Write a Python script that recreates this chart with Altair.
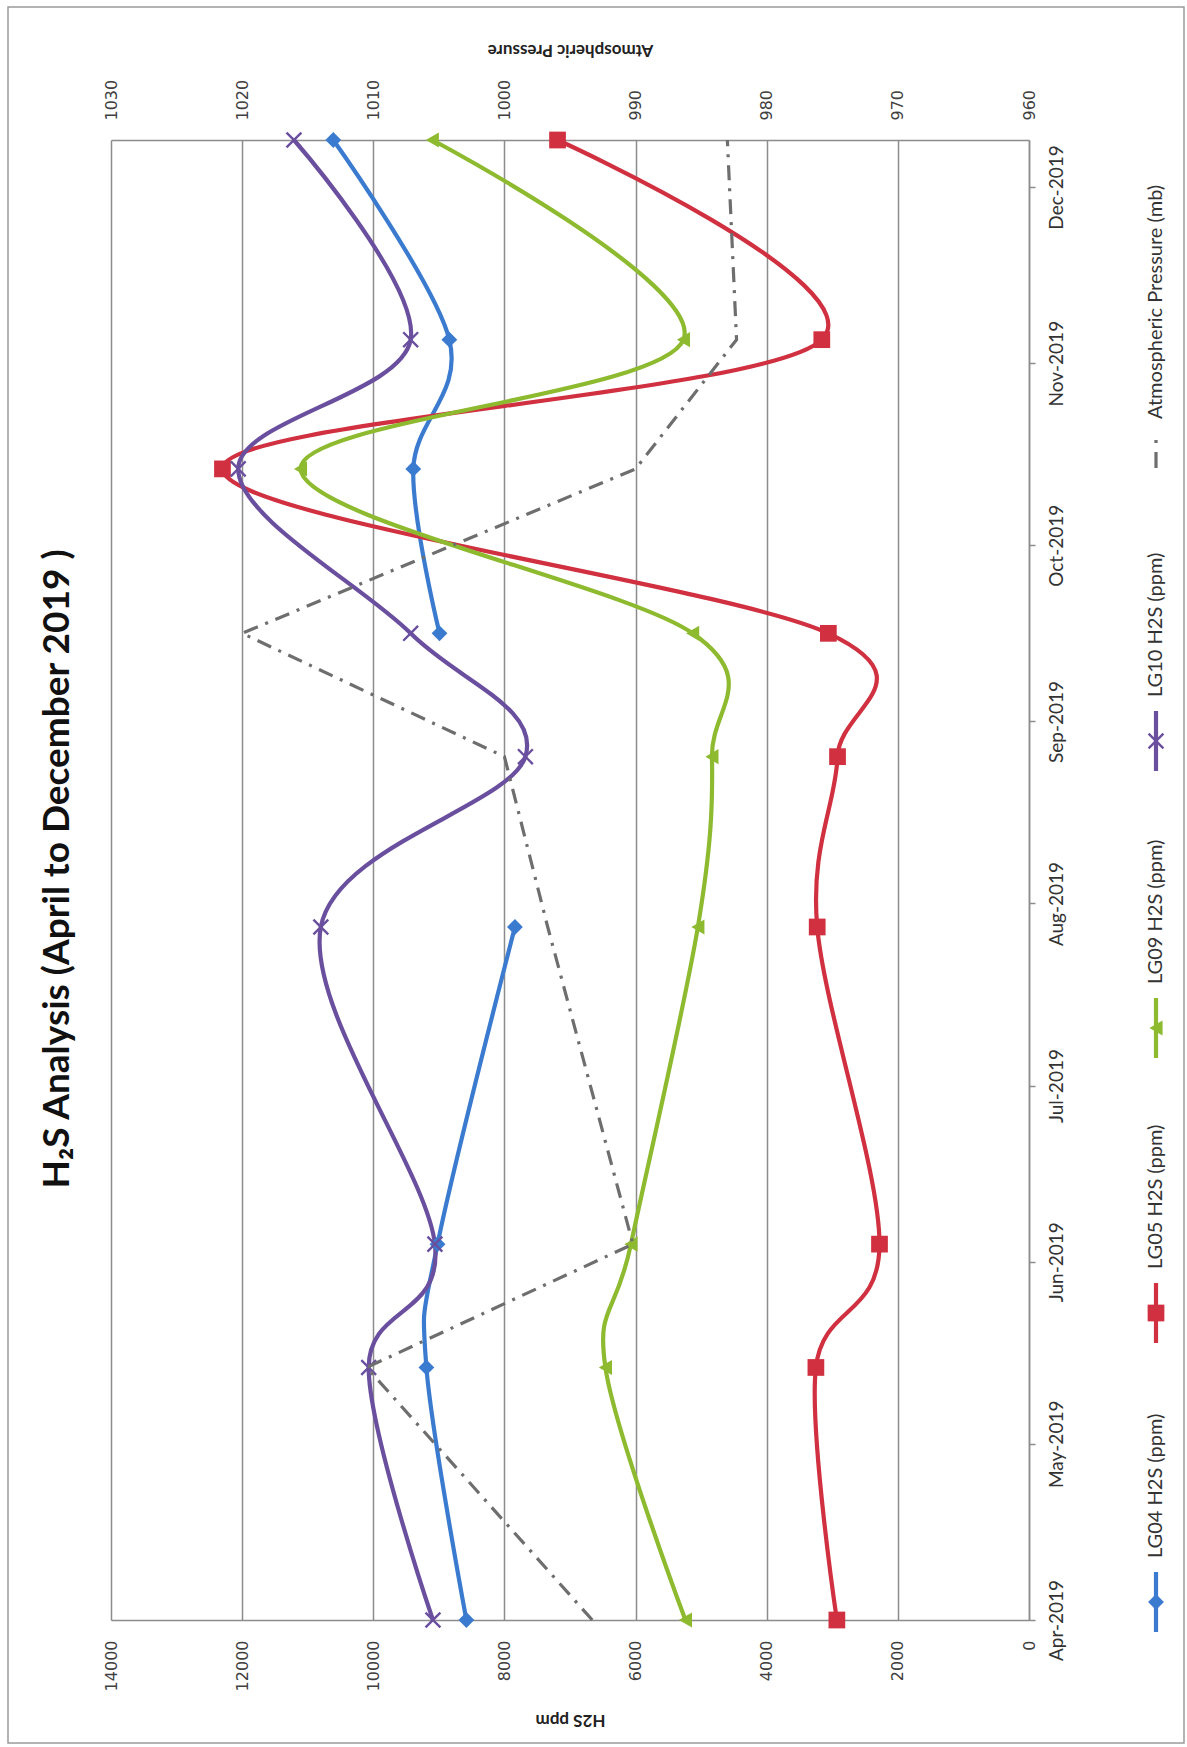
import altair as alt
import pandas as pd

# ---------------- data ----------------
dates = ["2019-04-01T00:00:00", "2019-05-14T00:00:00", "2019-06-04T00:00:00",
         "2019-07-28T00:00:00", "2019-08-26T00:00:00", "2019-09-16T00:00:00",
         "2019-10-14T00:00:00", "2019-11-05T00:00:00", "2019-12-09T00:00:00"]
series_names = ["LG04 H2S (ppm)", "LG05 H2S (ppm)", "LG09 H2S (ppm)", "LG10 H2S (ppm)"]
lg04 = [8580, 9190, 9020, 7840, None, 8990, 9390, 8840, 10610]
lg05 = [2930, 3250, 2280, 3230, 2920, 3060, 12300, 3160, 7190]
lg09 = [5240, 6460, 6070, 5050, 4835, 5130, 11110, 5270, 9100]
lg10 = [9090, 10070, 9060, 10800, 7680, 9430, 12060, 9430, 11210]
pressure_name = "Atmospheric Pressure (mb)"
pressure = [993.3, 1010.5, 990.2, 996.7, 1000.0, 1020.0, 990.0, 982.3, 983.0]
h2s_ticks = [0, 2000, 4000, 6000, 8000, 10000, 12000, 14000]
pressure_ticks = [960, 970, 980, 990, 1000, 1010, 1020, 1030]
tick_months = [4, 5, 6, 7, 8, 9, 10, 11, 12]
title_text = "H\u2082S Analysis (April to December 2019 )"

# ---------------- styles ----------------
colors = ["#3B7BCF", "#D0303F", "#8DBA2F", "#6A4F9F"]
press_color = "#6e6e6e"
grid_color = "#8c8c8c"
LINE_W = 4.2
W, H = 918, 1480

rows = []
for name, vals in zip(series_names, [lg04, lg05, lg09, lg10]):
    seg = 0
    for d, v in zip(dates, vals):
        if v is None:
            seg += 1
            continue
        rows.append({"date": d, "series": name, "value": v, "seg": f"{name}-{seg}"})
df = pd.DataFrame(rows)
dfp = pd.DataFrame({"date": dates, "pressure": pressure})

yscale = alt.Scale(type="time", nice=False,
                   domain=[alt.DateTime(year=2019, month=4, date=1),
                           alt.DateTime(year=2019, month=12, date=9)])
yaxis = alt.Axis(orient="right",
                 values=[alt.DateTime(year=2019, month=m, date=1) for m in tick_months],
                 format="%b-%Y", labelAngle=270, labelAlign="center", labelBaseline="top",
                 labelPadding=12, labelFont="Lato", labelFontSize=19, labelColor="#333333",
                 tickSize=6, tickColor=grid_color, tickWidth=1.5,
                 domainColor=grid_color, domainWidth=1.5, grid=False, title="",
                 labelOverlap=False, labelFlush=False)
Y = alt.Y("date:T", scale=yscale, axis=yaxis)

xscale = alt.Scale(domain=[0, 14000], reverse=True, nice=False)
xaxis = alt.Axis(orient="bottom", values=h2s_ticks, format="d", labelAngle=270,
                 labelAlign="right", labelBaseline="middle", labelFont="DejaVu Sans",
                 labelFontSize=16, labelColor="#404040", labelPadding=20, ticks=False,
                 tickSize=0, domainColor=grid_color, domainWidth=1.5, grid=True,
                 gridColor=grid_color, gridWidth=1.5, labelFlush=False, labelOverlap=False,
                 title="H2S ppm", titleFont="Lato", titleFontWeight="bold",
                 titleFontSize=17, titleAngle=180, titleBaseline="bottom",
                 titlePadding=20, titleColor="#222222")
X = alt.X("value:Q", scale=xscale, axis=xaxis)

color = alt.Color("series:N", scale=alt.Scale(domain=series_names, range=colors), legend=None)

base = alt.Chart(df)
lines = base.mark_line(interpolate="cardinal", strokeWidth=LINE_W).encode(
    x=X, y=Y, color=color, detail="seg:N", order="date:T")

marker_shapes = ["diamond", "square", "triangle-left", "M-1,-1L1,1M-1,1L1,-1"]
marker_sizes = [250, 280, 230, 220]


def marker_kwargs(shp, sz, col):
    if shp.startswith("M"):
        return dict(shape=shp, filled=False, strokeWidth=2.4, size=sz, color=col, opacity=1)
    return dict(shape=shp, filled=True, size=sz, color=col, opacity=1)


point_layers = []
for name, col, shp, sz in zip(series_names, colors, marker_shapes, marker_sizes):
    point_layers.append(
        base.transform_filter(alt.datum.series == name).mark_point(
            **marker_kwargs(shp, sz, col)).encode(x=X, y=Y))

h2s = alt.layer(lines, *point_layers)

paxis = alt.Axis(orient="top", values=pressure_ticks, format="d", labelAngle=270,
                 labelAlign="left", labelBaseline="middle", labelFont="DejaVu Sans",
                 labelFontSize=16, labelColor="#404040", labelPadding=20, ticks=False,
                 tickSize=0, domainColor=grid_color, domainWidth=1.5, grid=False,
                 labelFlush=False, labelOverlap=False,
                 title="Atmospheric Pressure", titleFont="Lato", titleFontWeight="bold",
                 titleFontSize=17, titleAngle=180, titleBaseline="top",
                 titlePadding=22, titleColor="#222222")
press = alt.Chart(dfp).mark_line(strokeDash=[15, 8, 3, 8], strokeWidth=3.2,
                                 color=press_color).encode(
    x=alt.X("pressure:Q", scale=alt.Scale(domain=[960, 1030], reverse=True, nice=False),
            axis=paxis),
    y=Y, order="date:T")

# ---------------- manual legend (rotated like the reference) ----------------
LEG_X = 1045
leg_marker_y = [1462, 1173, 888, 601]
legend_layers = []
one = pd.DataFrame({"k": [0]})
for name, col, shp, sz, my in zip(series_names, colors, marker_shapes, marker_sizes, leg_marker_y):
    legend_layers.append(alt.Chart(one).mark_rule(color=col, strokeWidth=LINE_W).encode(
        x=alt.value(LEG_X), y=alt.value(my - 30), y2=alt.value(my + 30)))
    legend_layers.append(alt.Chart(one).mark_point(**marker_kwargs(shp, sz, col)).encode(
        x=alt.value(LEG_X), y=alt.value(my)))
    legend_layers.append(alt.Chart(one).mark_text(
        angle=270, align="left", baseline="middle", font="Lato", fontSize=20,
        color="#333333").encode(x=alt.value(LEG_X), y=alt.value(my - 44),
                                text=alt.value(name)))
# pressure legend entry
legend_layers.append(alt.Chart(one).mark_rule(color=press_color, strokeWidth=3.2,
                                              strokeDash=[16, 9, 3, 30]).encode(
    x=alt.value(LEG_X), y=alt.value(328), y2=alt.value(290)))
legend_layers.append(alt.Chart(one).mark_text(
    angle=270, align="left", baseline="middle", font="Lato", fontSize=20,
    color="#333333").encode(x=alt.value(LEG_X), y=alt.value(279),
                            text=alt.value(pressure_name)))

# ---------------- chart title (rotated) ----------------
title_layer = alt.Chart(one).mark_text(
    angle=270, align="center", baseline="middle", font="Lato", fontSize=37,
    fontWeight="bold", color="#111111").encode(
    x=alt.value(-53), y=alt.value(729), text=alt.value(title_text))

# ---------------- outer chart border ----------------
border = alt.Chart(one).mark_rect(fillOpacity=0, stroke="#9a9a9a", strokeWidth=1.5).encode(
    x=alt.value(-103), x2=alt.value(1073), y=alt.value(-133), y2=alt.value(1603))

chart = alt.layer(border, h2s, press, title_layer, *legend_layers).resolve_scale(
    x="independent"
).properties(
    width=W, height=H, background="white",
    padding={"left": 7, "top": 6, "right": 2, "bottom": 2}
).configure_view(strokeWidth=0)

chart.save("out.html", embed_options={"renderer": "svg", "actions": False})
